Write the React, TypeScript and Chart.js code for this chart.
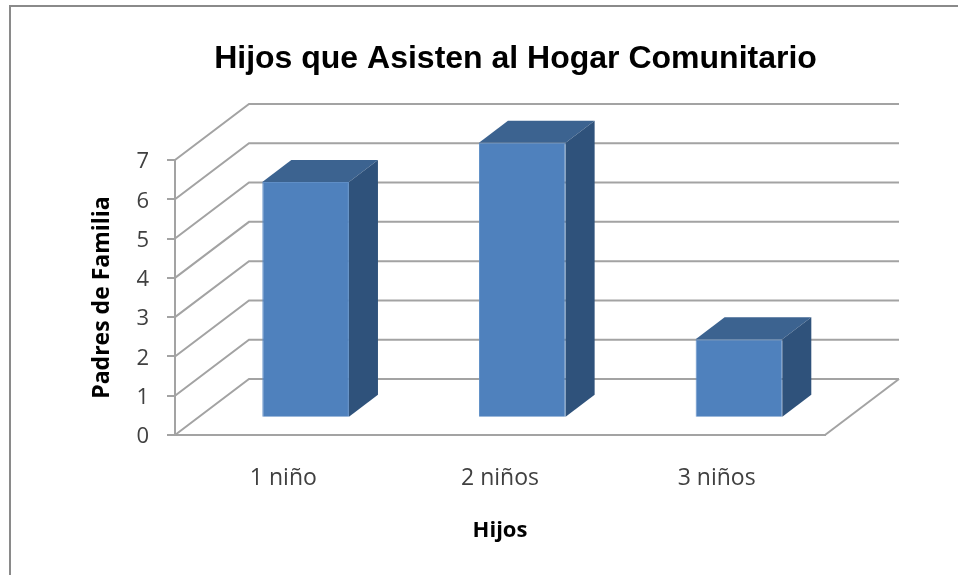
import React, { useEffect, useRef } from "react";
import { Chart, registerables } from "chart.js";

Chart.register(...registerables);

const categories = ["1 niño", "2 niños", "3 niños"];
const padres = [6, 7, 2];
const yMax = 7;
const titleText = "Hijos que Asisten al Hogar Comunitario";
const xTitle = "Hijos";
const yTitle = "Padres de Familia";

const GRID = "#a3a3a3";
const FRONT = "#4f81bd";
const TOP = "#3c6390";
const SIDE = "#2f527b";
const BODY_FONT = "'Open Sans'";

const WALL_DX = 74;
const WALL_DY = 56;
const BAR_DX = 22.3;
const BAR_DY = 17.3;
const BAR_DEPTH_X = 29;
const BAR_DEPTH_Y = 22;

const frame3d = {
  id: "frame3d",
  beforeDraw(chart: any) {
    const { ctx } = chart;
    ctx.save();
    ctx.strokeStyle = "#8a8a8a";
    ctx.lineWidth = 2;
    ctx.beginPath();
    ctx.moveTo(10, 575);
    ctx.lineTo(10, 6);
    ctx.lineTo(958, 6);
    ctx.stroke();
    ctx.restore();
  },
  beforeDatasetsDraw(chart: any) {
    const { ctx, chartArea, scales } = chart;
    const { left, right, bottom } = chartArea;
    ctx.save();
    ctx.strokeStyle = GRID;
    ctx.lineWidth = 2;
    for (const t of scales.y.ticks) {
      const y = scales.y.getPixelForValue(t.value);
      ctx.beginPath();
      ctx.moveTo(left, y);
      ctx.lineTo(left + WALL_DX, y - WALL_DY);
      ctx.lineTo(right + WALL_DX, y - WALL_DY);
      ctx.stroke();
    }
    ctx.beginPath();
    ctx.moveTo(right, bottom);
    ctx.lineTo(right + WALL_DX, bottom - WALL_DY);
    ctx.stroke();
    ctx.restore();
    ctx.save();
    ctx.translate(BAR_DX, -BAR_DY);
  },
  afterDatasetsDraw(chart: any) {
    const { ctx } = chart;
    const meta = chart.getDatasetMeta(0);
    for (const bar of meta.data) {
      const { x, y, base, width } = bar.getProps(["x", "y", "base", "width"], true);
      const l = x - width / 2;
      const r = x + width / 2;
      ctx.fillStyle = TOP;
      ctx.beginPath();
      ctx.moveTo(l, y);
      ctx.lineTo(l + BAR_DEPTH_X, y - BAR_DEPTH_Y);
      ctx.lineTo(r + BAR_DEPTH_X, y - BAR_DEPTH_Y);
      ctx.lineTo(r, y);
      ctx.closePath();
      ctx.fill();
      ctx.fillStyle = SIDE;
      ctx.beginPath();
      ctx.moveTo(r, y);
      ctx.lineTo(r + BAR_DEPTH_X, y - BAR_DEPTH_Y);
      ctx.lineTo(r + BAR_DEPTH_X, base - BAR_DEPTH_Y);
      ctx.lineTo(r, base);
      ctx.closePath();
      ctx.fill();
    }
    ctx.restore();
  },
};

export default function App() {
  const ref = useRef<HTMLCanvasElement>(null);
  useEffect(() => {
    const chart = new Chart(ref.current!, {
      type: "bar",
      data: {
        labels: categories,
        datasets: [
          {
            label: yTitle,
            data: padres,
            backgroundColor: FRONT,
            borderColor: "#5f8ec6",
            borderWidth: 1,
            barPercentage: 0.4,
            categoryPercentage: 1,
            clip: false,
          } as any,
        ],
      },
      options: {
        animation: false,
        responsive: false,
        layout: { padding: { left: 73, right: 0, top: 0, bottom: 0 } },
        plugins: {
          legend: { display: false },
          tooltip: { enabled: false },
          title: {
            display: true,
            text: titleText,
            color: "#000000",
            font: { family: "'Liberation Sans'", size: 32, weight: "bold", lineHeight: 1.2 },
            padding: { top: 40, bottom: 81.6 },
          },
        },
        scales: {
          x: {
            grid: { display: false },
            border: { display: true, color: GRID, width: 2 },
            ticks: { color: "#404040", font: { family: BODY_FONT, size: 23 }, padding: 22, maxRotation: 0 },
            title: {
              display: true,
              text: xTitle,
              color: "#000000",
              font: { family: BODY_FONT, size: 22, weight: "bold" },
              padding: { top: 0, bottom: 31 },
            },
            afterFit(s: any) {
              s.height = 140;
            },
          },
          y: {
            min: 0,
            max: yMax,
            grid: { drawOnChartArea: false, color: GRID, tickLength: 8, lineWidth: 2 },
            border: { display: true, color: GRID, width: 2 },
            ticks: {
              stepSize: 1,
              color: "#404040",
              font: { family: BODY_FONT, size: 22 },
              padding: 18,
              labelOffset: 2,
            },
            title: {
              display: true,
              text: yTitle,
              color: "#000000",
              font: { family: BODY_FONT, size: 23, weight: "bold" },
              padding: { top: 16, bottom: 0 },
            },
            afterFit(s: any) {
              s.width = 102;
            },
          },
          spacer: {
            position: "right",
            grid: { display: false },
            border: { display: false },
            ticks: { display: false },
            afterFit(s: any) {
              s.width = 133;
            },
          },
        },
      },
      plugins: [frame3d],
    } as any);
    return () => chart.destroy();
  }, []);
  return (
    <canvas
      ref={ref}
      width={958}
      height={575}
      style={{ position: "absolute", left: 0, top: 0, width: 958, height: 575, filter: "blur(0.4px)" }}
    />
  );
}
